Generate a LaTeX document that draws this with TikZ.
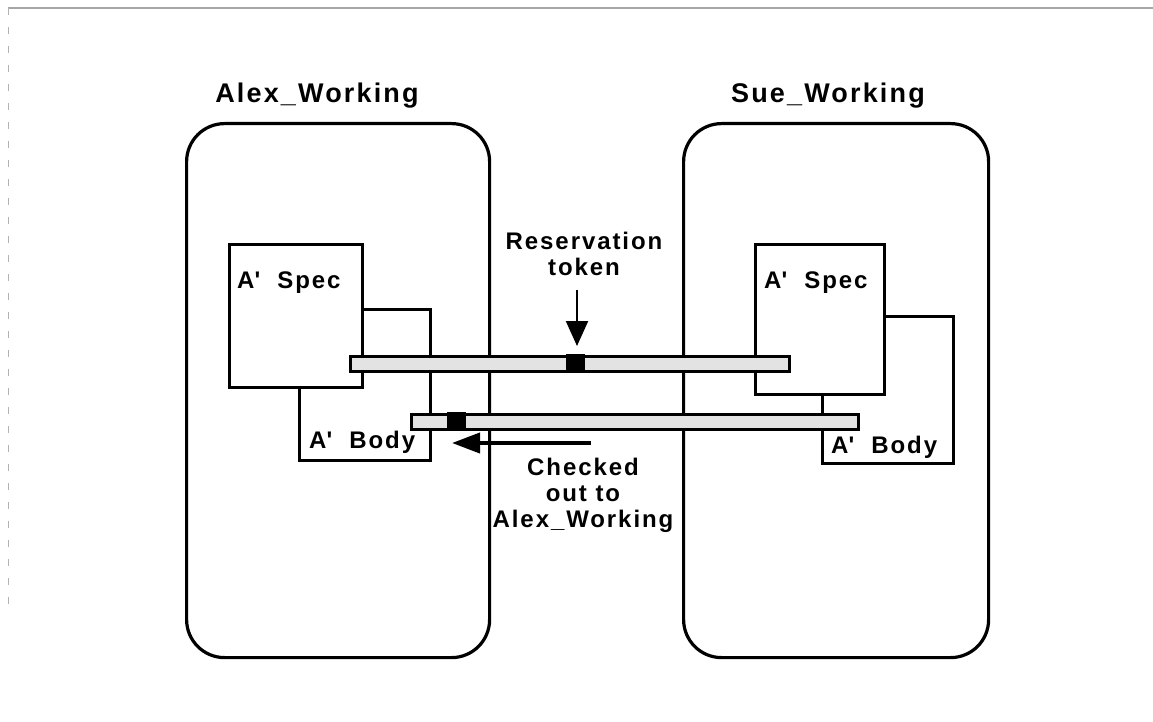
\documentclass[tikz,border=0pt]{standalone}
\usepackage{fontspec}
\setmainfont{Liberation Sans}[LetterSpace=8]
\usetikzlibrary{arrows.meta}
\tikzset{
  container/.style={draw=black, line width=3.2pt, rounded corners=38pt, inner sep=0pt, anchor=north west},
  boxnode/.style={draw=black, fill=white, line width=2.6pt, inner sep=0pt, anchor=north west},
  barnode/.style={draw=black, fill=gray!22, line width=3.2pt, inner sep=0pt, anchor=north west, minimum height=15pt},
  tokennode/.style={fill=black, inner sep=0pt, anchor=north west, minimum height=18pt, minimum width=19pt},
  title/.style={font=\fontsize{27}{32}\selectfont\bfseries, inner sep=0pt, anchor=base},
  lbl/.style={font=\fontsize{24}{26}\selectfont\bfseries, inner sep=0pt, anchor=base west},
  ctext/.style={font=\fontsize{24}{26}\selectfont\bfseries, inner sep=0pt, align=center},
  scanline/.style={draw=gray!70, line width=1.4pt}
}
\begin{document}
\begin{tikzpicture}[x=1pt,y=-1pt]
\useasboundingbox (0,0) rectangle (1153,722);
% scan edge
\coordinate (tl) at (8,8);
\coordinate (tr) at (1153,8);
\coordinate (lb) at (8,610);
\draw[scanline] (tl) -- (tr);
\draw[draw=gray!60, line width=0.9pt, dash pattern=on 7pt off 12pt] (tl) -- (lb);
% containers
\node[container, minimum width=303pt, minimum height=534pt] (alex) at (185,122) {};
\node[container, minimum width=305pt, minimum height=534pt] (sue) at (682,122) {};
\node[title] (alextitle) at (317,103) {Alex\_Working};
\node[title] (suetitle) at (828,103) {Sue\_Working};
% left boxes
\node[boxnode, minimum width=131pt, minimum height=151pt] (lbody) at (298,308) {};
\node[boxnode, minimum width=133pt, minimum height=143pt] (lspec) at (228,243) {};
\node[lbl] (lspect) at (237,288) {A\textquotesingle~~Spec};
\node[lbl] (lbodyt) at (309,448) {A\textquotesingle~~Body};
% right boxes
\node[boxnode, minimum width=131pt, minimum height=147pt] (rbody) at (821,315) {};
\node[boxnode, minimum width=129pt, minimum height=150pt] (rspec) at (754,243) {};
\node[lbl] (rspect) at (764,288) {A\textquotesingle~~Spec};
\node[lbl] (rbodyt) at (831,453) {A\textquotesingle~~Body};
% bars
\node[barnode, minimum width=439pt] (ubar) at (349,355) {};
\node[barnode, minimum width=447pt] (lowbar) at (410,413) {};
\node[tokennode] (utok) at (566,354) {};
\node[tokennode] (ltok) at (447,412) {};
% labels and arrows
\node[ctext] (res) at (584,254) {Reservation\\token};
\coordinate (resstart) at (577,290);
\coordinate (resend) at (577,346);
\draw[line width=2.2pt, -{Triangle[length=25pt,width=22pt]}] (resstart) -- (resend);
\node[ctext] (chk) at (583,495) {Checked\\out to\\Alex\_Working};
\coordinate (chkstart) at (591,443);
\coordinate (chkend) at (452,443);
\draw[line width=4pt, -{Triangle[length=28pt,width=20pt]}] (chkstart) -- (chkend);
\end{tikzpicture}
\end{document}
